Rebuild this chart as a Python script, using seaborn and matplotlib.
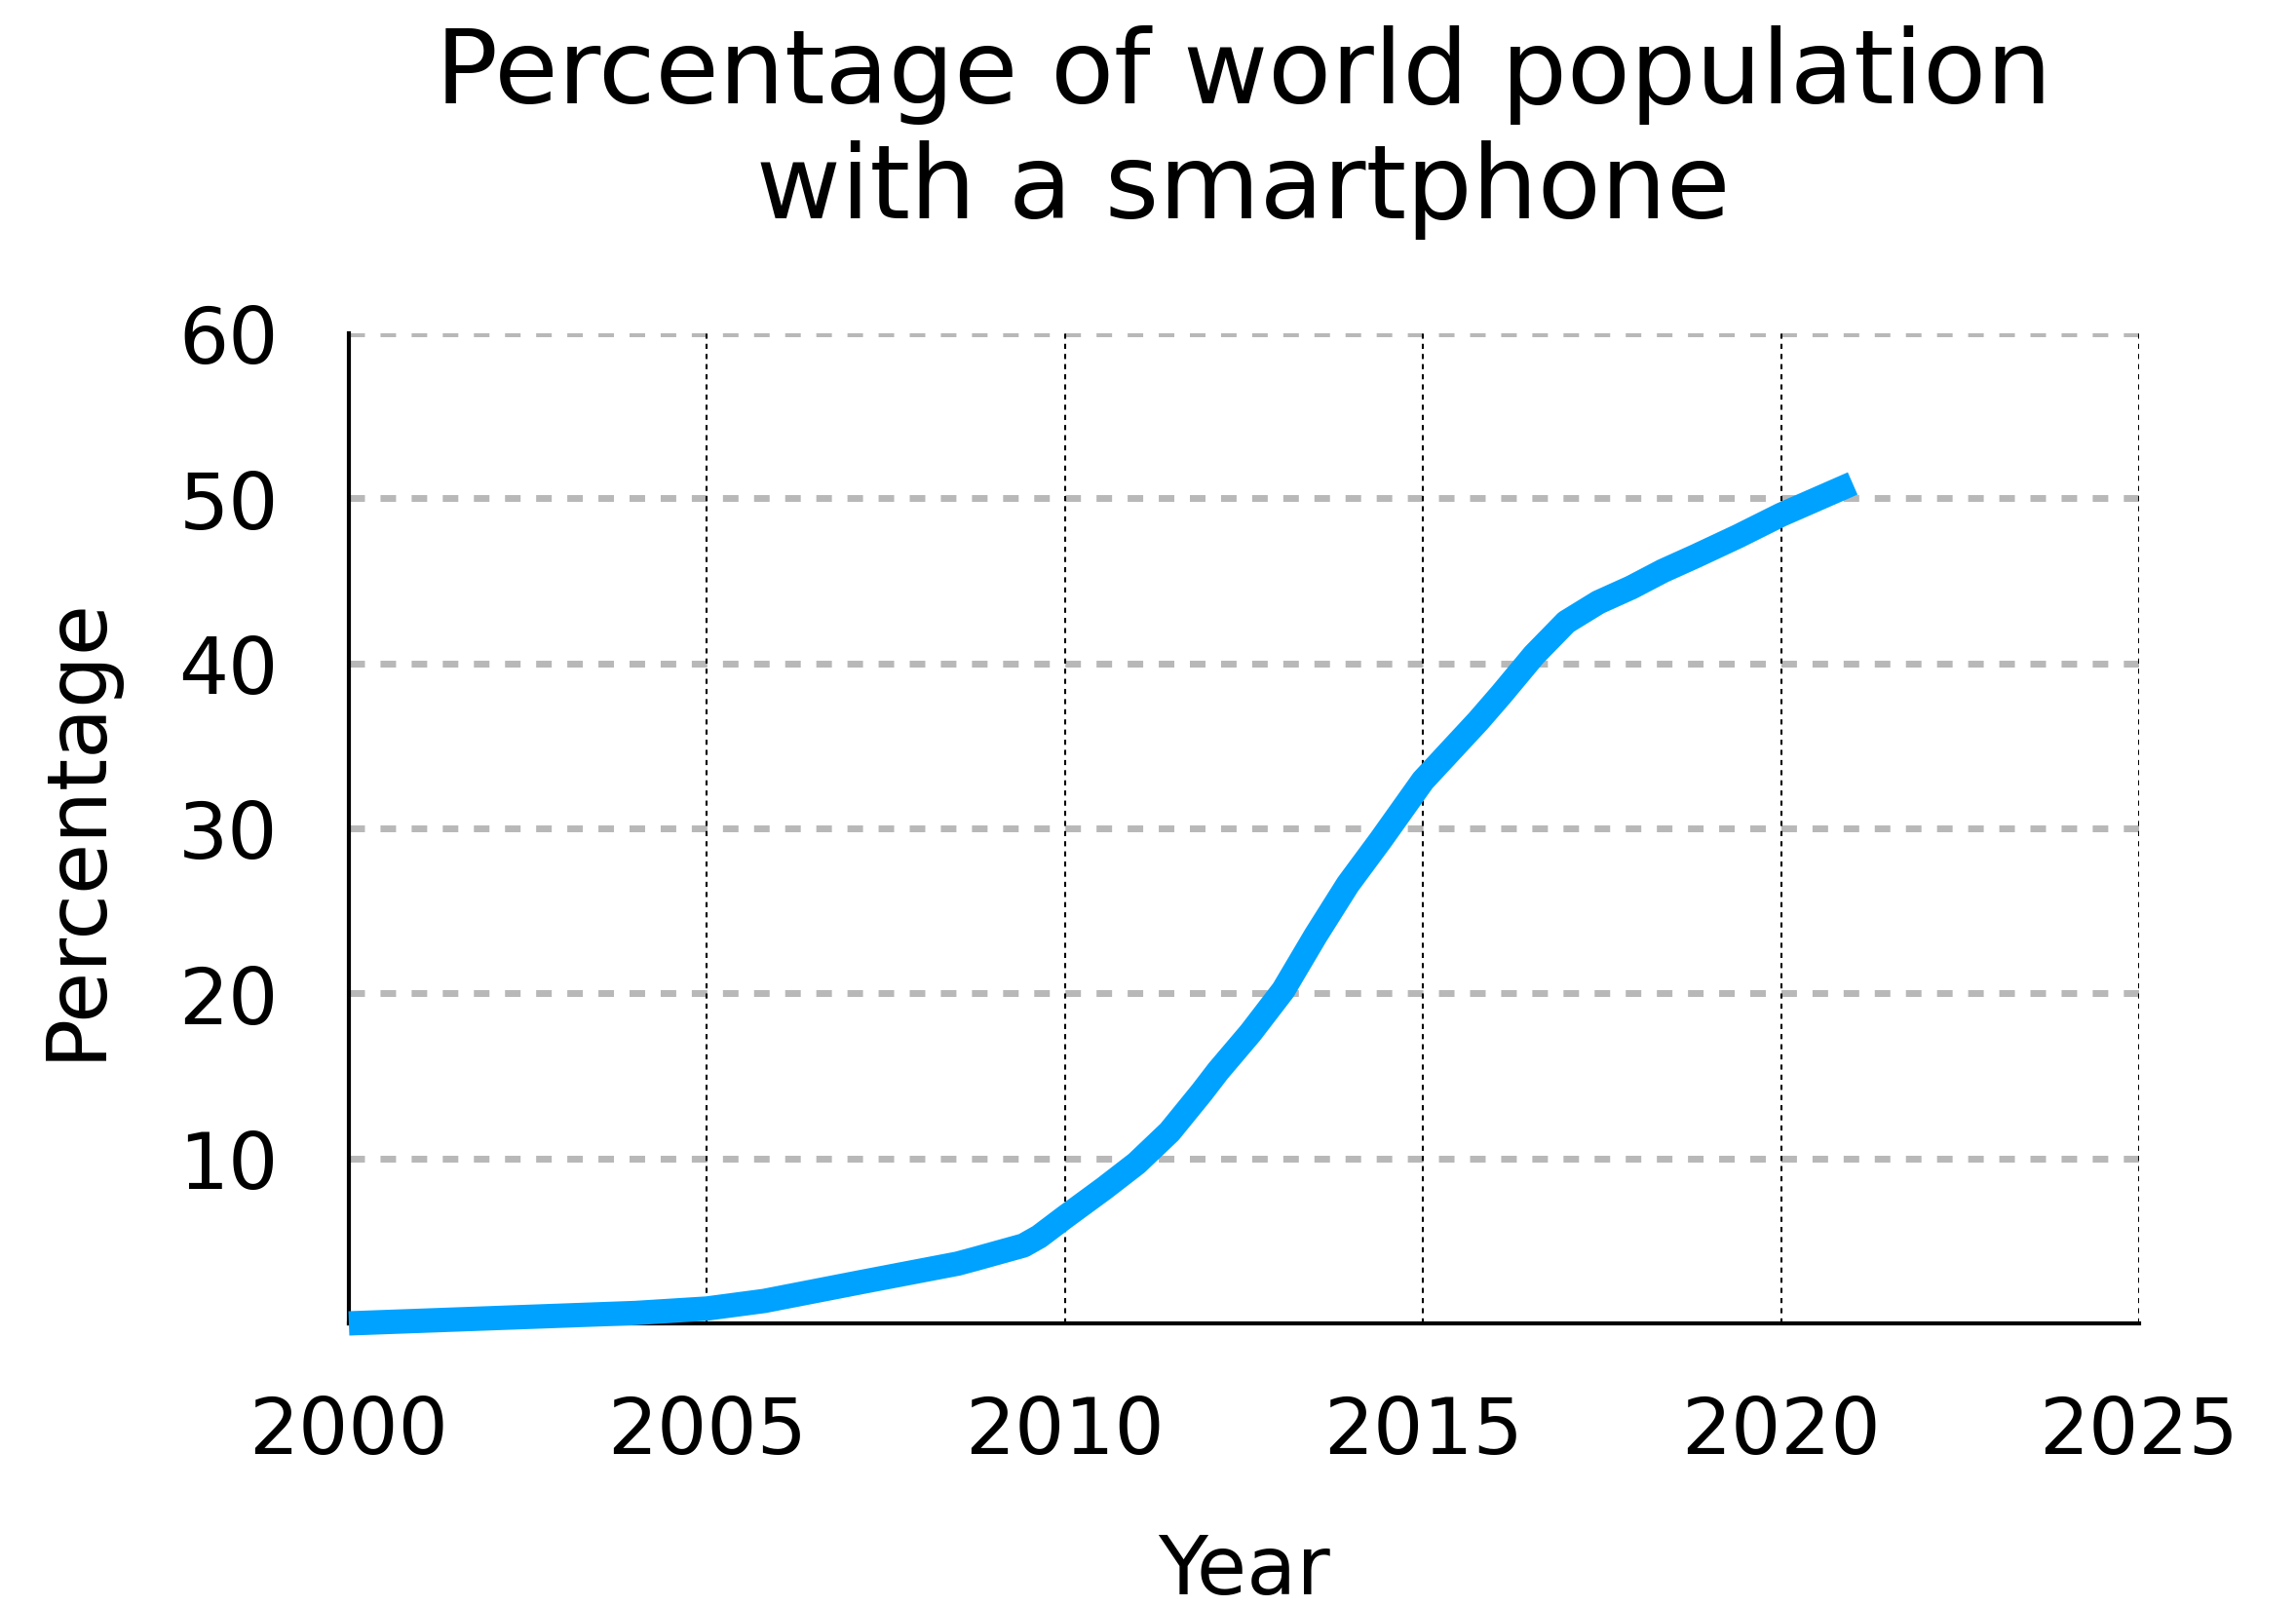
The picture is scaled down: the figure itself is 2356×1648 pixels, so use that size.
import matplotlib
matplotlib.use("Agg")
import matplotlib.pyplot as plt
import seaborn as sns
import pandas as pd

years = [2000.0, 2004.0, 2005.0, 2005.8, 2007.15, 2008.5, 2008.74, 2009.42, 2009.64, 2010.0,
         2010.55, 2011.0, 2011.46, 2011.91, 2012.14, 2012.59, 2013.05, 2013.5, 2013.95, 2014.41,
         2015.0, 2015.77, 2016.09, 2016.55, 2017.0, 2017.45, 2017.91, 2018.35, 2018.81, 2019.4,
         2020.0, 2021.0]
percent = [0.0, 0.63, 0.9, 1.36, 2.5, 3.62, 3.9, 4.72, 5.26, 6.44,
           8.19, 9.7, 11.6, 14.0, 15.3, 17.6, 20.2, 23.5, 26.6, 29.3,
           32.9, 36.5, 38.1, 40.5, 42.5, 43.7, 44.6, 45.6, 46.5, 47.7,
           49.0, 50.9]
x_ticks = [2000, 2005, 2010, 2015, 2020, 2025]
y_ticks = [10, 20, 30, 40, 50, 60]

title = "Percentage of world population\nwith a smartphone"
x_label = "Year"
y_label = "Percentage"

df = pd.DataFrame({"Year": years, "Percentage": percent})

sns.set_theme(style="white")
plt.rcParams["font.family"] = ["DejaVu Sans"]
plt.rcParams["text.color"] = "black"

DPI = 100
fig = plt.figure(figsize=(23.56, 16.49), dpi=DPI)
ax = fig.add_axes([358/2356, 1 - 1359/1649, (2195-358)/2356, (1359-343)/1649])

sns.lineplot(data=df, x="Year", y="Percentage", ax=ax, color="#00a2ff",
             linewidth=18, solid_capstyle="butt", solid_joinstyle="round", zorder=5,
             clip_on=False)

ax.set_xlim(2000, 2025)
ax.set_ylim(0, 60)
ax.set_xticks(x_ticks)
ax.set_yticks(y_ticks)
ax.tick_params(axis="both", length=0, labelsize=58, pad=52, colors="black")

for y in y_ticks:
    ax.axhline(y, color="#b8b8b8", linewidth=5, linestyle=(0, (2.3, 2.3)), zorder=1)
for x in x_ticks[1:]:
    ax.axvline(x, color="black", linewidth=1.5, linestyle=(0, (2.5, 2.5)), zorder=2)

for side in ["top", "right"]:
    ax.spines[side].set_visible(False)
for side in ["left", "bottom"]:
    ax.spines[side].set_color("black")
    ax.spines[side].set_linewidth(3)
    ax.spines[side].set_zorder(3)

ax.set_xlabel("")
ax.set_ylabel("")
fig.text(1276/2356, 1 - 1636/1649, x_label, ha="center", va="baseline", fontsize=60, color="black")
fig.text(78/2356, 1 - 850/1649, y_label, ha="center", va="center", rotation=90, fontsize=61, color="black")
fig.text(1276/2356, 1 - 224/1649, title, ha="center", va="baseline", fontsize=76.5,
         linespacing=1.2, multialignment="center", color="black")

fig.savefig("out.png", dpi=DPI, facecolor="white")
